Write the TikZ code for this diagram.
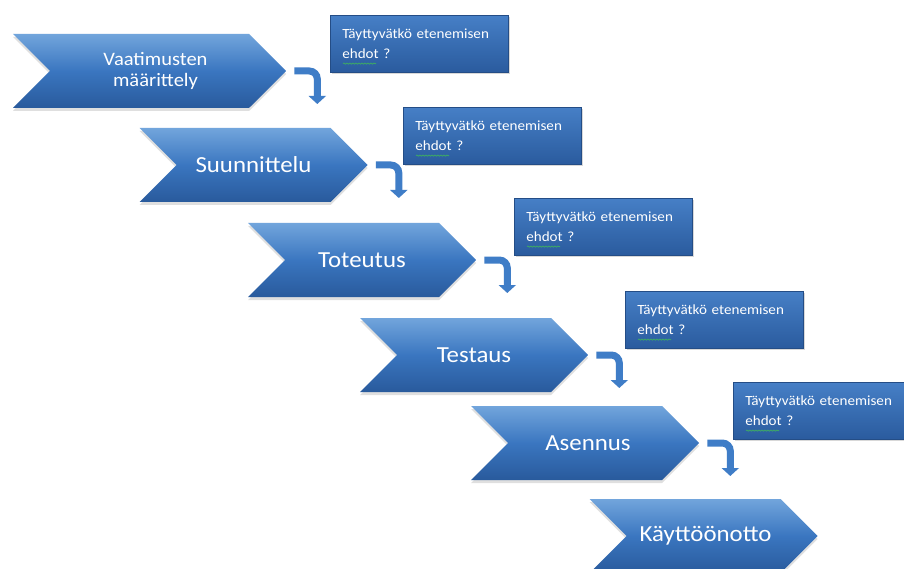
\documentclass[tikz,border=0pt]{standalone}
\usepackage{fontspec}
\setmainfont{Carlito}[FakeStretch=1.08]
\usetikzlibrary{shapes.symbols,arrows.meta,shadows,decorations.pathmorphing}
\definecolor{ctop}{HTML}{72A5DC}
\definecolor{cmid}{HTML}{3A76C0}
\definecolor{cbot}{HTML}{295A9C}
\definecolor{btop}{HTML}{467FC6}
\definecolor{bbot}{HTML}{2A5B9E}
\definecolor{arrowc}{HTML}{3F7DC7}
\definecolor{squigc}{HTML}{3CA36A}
\begin{document}
\begin{tikzpicture}[x=1pt,y=-1pt,
  chev/.style={signal, signal to=east, signal from=west, signal pointer angle=90,
    minimum width=228pt, minimum height=74pt, inner sep=0pt,
    top color=ctop, bottom color=cbot, middle color=cmid, draw=none,
    text=white, font=\fontsize{23}{25}\selectfont,
    drop shadow={opacity=0.25, shadow xshift=0pt, shadow yshift=-3pt}},
  condbox/.style={rectangle, minimum width=178pt, minimum height=57pt,
    text width=154pt, inner xsep=12pt, align=left, anchor=north west,
    top color=btop, bottom color=bbot, draw=bbot!85!black, line width=0.6pt,
    text=white, font=\fontsize{14}{20}\selectfont,
    drop shadow={opacity=0.3, shadow xshift=1.5pt, shadow yshift=-2pt}},
  bendarrow/.style={draw=arrowc, line width=7pt, rounded corners=8pt,
    -{Triangle[width=17pt,length=8pt]}},
  squig/.style={draw=squigc, line width=0.9pt, decorate,
    decoration={snake, amplitude=0.5pt, segment length=3pt}}]
\useasboundingbox (0,0) rectangle (904,569);
\fill[white] (0,0) rectangle (904,569);
\clip (0,0) rectangle (904,569);

% chevrons
\node[chev, minimum width=273pt, font=\fontsize{19}{21}\selectfont, align=center]
  (c1) at (149.5,71) {\hspace*{12pt}Vaatimusten\\\hspace*{12pt}määrittely};
\node[chev] (c2) at (253.5,165) {Suunnittelu};
\node[chev] (c3) at (362,260) {Toteutus};
\node[chev] (c4) at (474,355) {Testaus};
\node[chev] (c5) at (585,443) {\hspace*{6pt}Asennus};
\node[chev] (c6) at (703.5,536) {\hspace*{4pt}Käyttöönotto};

% condition boxes
\node[condbox] (b1) at (330,15) {Täyttyvätkö etenemisen\\ehdot ?};
\node[condbox] (b2) at (403,107) {Täyttyvätkö etenemisen\\ehdot ?};
\node[condbox] (b3) at (514,198) {Täyttyvätkö etenemisen\\ehdot ?};
\node[condbox] (b4) at (625,291) {Täyttyvätkö etenemisen\\ehdot ?};
\node[condbox] (b5) at (733,382) {Täyttyvätkö etenemisen\\ehdot ?};

\foreach \b in {b1,b2,b3,b4,b5}
  \draw[squig] ([shift={(13,-9)}]\b.south west) -- ++(33,0);

% bent arrows
\foreach \c/\i in {c1/1,c2/2,c3/3,c4/4,c5/5}{
  \coordinate (a\i) at ([shift={(31,33)}]\c.east);
  \draw[bendarrow] ([shift={(8,0)}]\c.east) -| (a\i);
}
\end{tikzpicture}
\end{document}
